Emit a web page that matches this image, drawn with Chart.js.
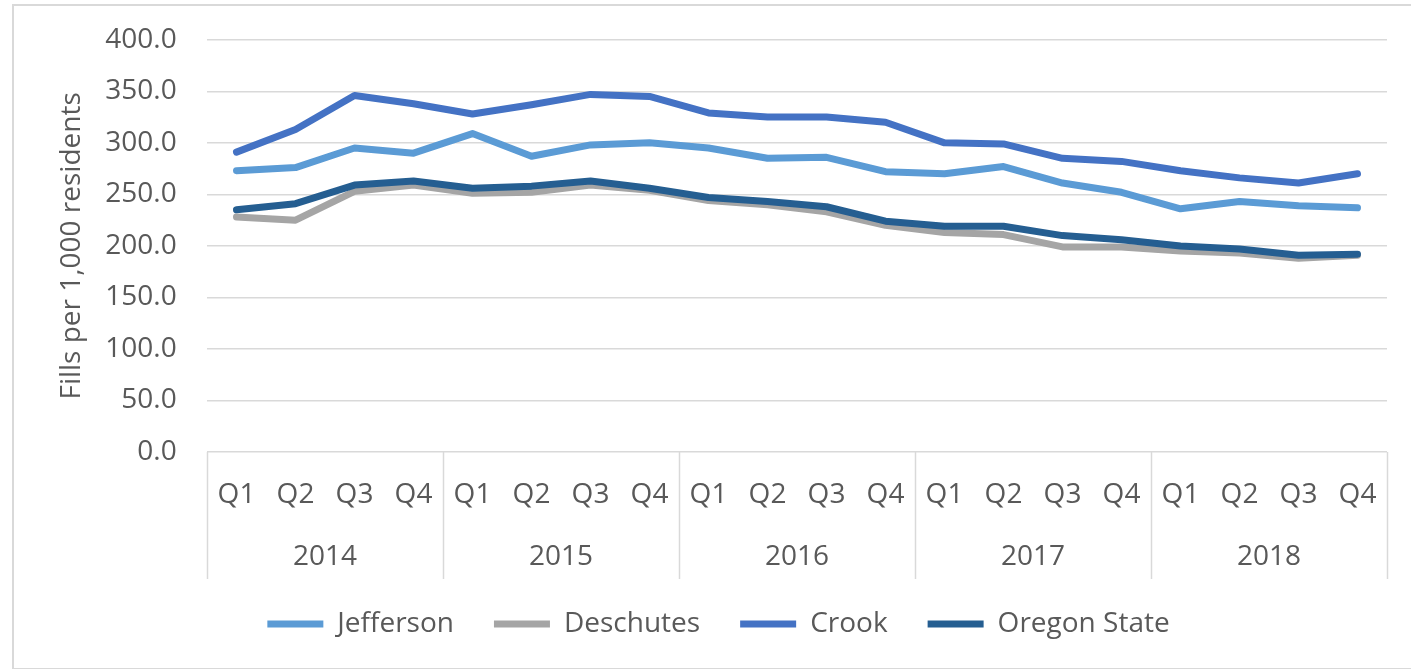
<!DOCTYPE html>
<html>
<head>
<meta charset="utf-8">
<script src="https://cdn.jsdelivr.net/npm/chart.js@4/dist/chart.umd.min.js"></script>
<style>
  html, body { margin: 0; padding: 0; background: #fff; overflow: hidden; }
  #wrap { position: absolute; left: 0; top: 0; width: 1411px; height: 669px; }
  #frame { position: absolute; left: 12px; top: 4px; width: 1420px; height: 662px;
           border: 2px solid #d9d9d9; pointer-events: none; }
</style>
</head>
<body>
<div id="wrap">
  <canvas id="myChart" width="1411" height="669"></canvas>
  <div id="frame"></div>
</div>
<script>
// 분기 라벨과 연도
const quarters = ['Q1','Q2','Q3','Q4','Q1','Q2','Q3','Q4','Q1','Q2','Q3','Q4','Q1','Q2','Q3','Q4','Q1','Q2','Q3','Q4']
const years = ['2014','2015','2016','2017','2018']

// 시리즈 값 (1,000명당 처방 건수)
const jefferson = [273, 276, 295, 290, 309, 287, 298, 300, 295, 285, 286, 272, 270, 277, 261, 252, 236, 243, 239, 237]
const deschutes = [228, 225, 253, 259, 251, 252, 259, 254, 244, 240, 233, 220, 213, 211, 199, 199, 195, 193, 188, 191]
const crook = [291, 313, 346, 338, 328, 337, 347, 345, 329, 325, 325, 320, 300, 299, 285, 282, 273, 266, 261, 270]
const oregon = [235, 241, 259, 263, 256, 258, 263, 256, 247, 243, 238, 224, 219, 219, 210, 206, 200, 197, 191, 192]

const FONT = "'Open Sans', sans-serif"
const TXT = '#595959'
const GRID = '#d9d9d9'

// 연도 구분선 그리기 (축 영역 아래쪽 127px 까지)
const yearLines = {
    id: 'yearLines',
    afterDraw(chart) {
        const x = chart.scales.x
        const ctx = chart.ctx
        const top = chart.chartArea.bottom
        ctx.save()
        ctx.strokeStyle = GRID
        ctx.lineWidth = 1.5
        for (let i = 0; i <= quarters.length; i += 4) {
            const px = Math.round(x.getPixelForValue(i - 0.5)) + 0.5
            ctx.beginPath()
            ctx.moveTo(px, top)
            ctx.lineTo(px, top + 127)
            ctx.stroke()
        }
        ctx.restore()
    }
}

const mk = (label, data, color, order) => ({
    label: label,
    data: data,
    borderColor: color,
    backgroundColor: color,
    borderWidth: 7,
    pointRadius: 0,
    pointStyle: 'line',
    tension: 0,
    borderCapStyle: 'round',
    borderJoinStyle: 'round',
    order: order
})

const config = {
    type: 'line',
    data: {
        labels: quarters,
        datasets: [
            mk('Jefferson', jefferson, '#5b9bd5', 0),
            mk('Deschutes', deschutes, '#a5a5a5', 2),
            mk('Crook', crook, '#4472c4', 0),
            mk('Oregon State', oregon, '#255e91', 1)
        ]
    },
    options: {
        responsive: false,
        animation: false,
        layout: { padding: { top: 28, right: 24, left: 50, bottom: 21 } },
        plugins: {
            tooltip: { enabled: false },
            legend: {
                position: 'bottom',
                labels: {
                    font: { family: FONT, size: 28 },
                    color: TXT,
                    usePointStyle: true,
                    pointStyleWidth: 56,
                    boxHeight: 7,
                    padding: 40,
                    sort: (a, b) => a.datasetIndex - b.datasetIndex
                }
            }
        },
        scales: {
            y: {
                min: 0,
                max: 400,
                ticks: {
                    stepSize: 50,
                    padding: 23,
                    color: TXT,
                    font: { family: FONT, size: 28 },
                    // 뒤에 공백을 붙여 라벨을 왼쪽으로 조금 이동
                    callback: (v) => v.toFixed(1) + ' '
                },
                grid: { color: GRID, lineWidth: 1.5, drawTicks: false },
                border: { display: false },
                title: {
                    display: true,
                    text: 'Fills per 1,000 residents',
                    color: TXT,
                    font: { family: FONT, size: 28 },
                    padding: { top: 5, bottom: 0 }
                },
                afterFit: (s) => { s.width = 157 }
            },
            x: {
                offset: true,
                ticks: {
                    padding: 26,
                    color: TXT,
                    font: { family: FONT, size: 28 },
                    maxRotation: 0,
                    autoSkip: false
                },
                grid: { display: false, drawTicks: false },
                border: { display: false },
                afterFit: (s) => { s.height = 73 }
            },
            x2: {
                type: 'category',
                position: 'bottom',
                labels: years,
                offset: true,
                ticks: {
                    padding: 15,
                    color: TXT,
                    font: { family: FONT, size: 28 },
                    maxRotation: 0
                },
                grid: { display: false, drawTicks: false },
                border: { display: false },
                afterFit: (s) => { s.height = 45 }
            }
        }
    },
    plugins: [yearLines]
}

let myChart = new Chart(document.getElementById('myChart'), config)
</script>
</body>
</html>
